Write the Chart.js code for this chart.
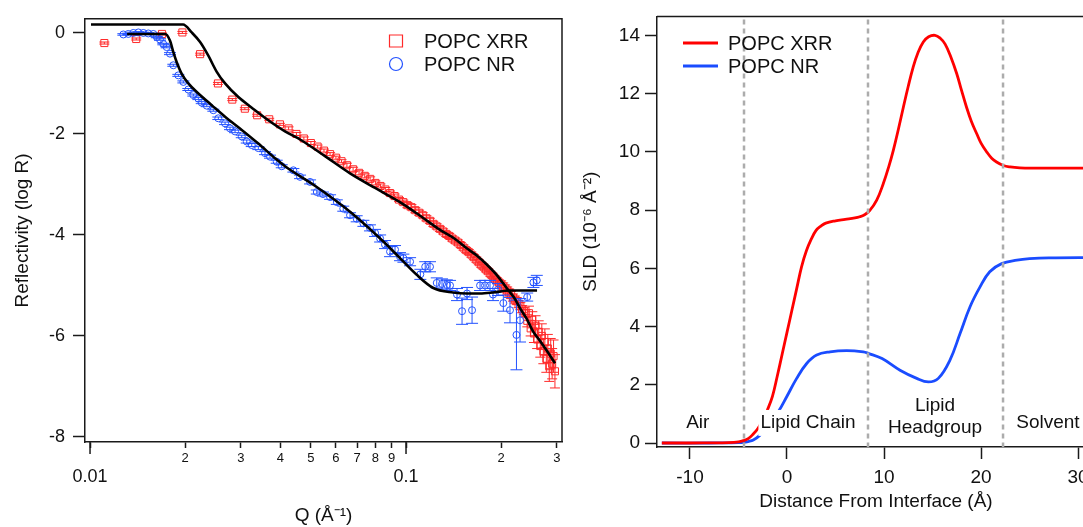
<!DOCTYPE html>
<html lang="en">
<head>
  <meta charset="UTF-8">
  <title>POPC XRR / NR - reflectivity and SLD profiles</title>
  <script src="https://cdn.jsdelivr.net/npm/chart.js"></script>
  <style>
    html, body { margin: 0; padding: 0; background: #fff; width: 1083px; height: 527px; overflow: hidden; position: relative; }
    #left { position: absolute; left: 0; top: 0; }
    #right { position: absolute; left: 575px; top: 0; }
  </style>
</head>
<body>
  <canvas id="left" width="575" height="527"></canvas>
  <canvas id="right" width="540" height="527"></canvas>

  <script>
    // ---- reflectivity data (left panel) ----
    const xrrQ = [0.0111, 0.0140, 0.0169, 0.0196, 0.0223, 0.0254, 0.0282, 0.0309, 0.0338, 0.0369, 0.0399,
      0.0425, 0.045, 0.0475, 0.050, 0.0525, 0.055, 0.0575, 0.060, 0.0625,
      0.065, 0.068, 0.071, 0.074, 0.077, 0.080, 0.083, 0.086, 0.089, 0.092, 0.095, 0.098,
      0.101, 0.104, 0.107, 0.110, 0.113, 0.116, 0.119, 0.122, 0.125, 0.128, 0.131, 0.134, 0.137, 0.140, 0.143, 0.146,
      0.149, 0.152, 0.155, 0.158, 0.161, 0.164, 0.167, 0.170, 0.173, 0.176, 0.179, 0.182, 0.185, 0.188, 0.191, 0.194, 0.197,
      0.200, 0.203, 0.206, 0.209, 0.212, 0.215, 0.218, 0.221, 0.224, 0.227, 0.230, 0.233, 0.236, 0.239,
      0.242, 0.245, 0.248, 0.251, 0.254, 0.257, 0.260, 0.263, 0.266, 0.269, 0.272, 0.275, 0.278, 0.281, 0.284, 0.287, 0.290, 0.293, 0.296];
    const xrrLogR = [-0.20, -0.12, -0.02, 0.01, -0.42, -1.00, -1.32, -1.50, -1.63, -1.71, -1.81,
      -1.89, -2.00, -2.09, -2.18, -2.25, -2.33, -2.40, -2.47, -2.54,
      -2.62, -2.70, -2.77, -2.83, -2.89, -2.97, -3.03, -3.10, -3.17, -3.23, -3.30, -3.35,
      -3.41, -3.45, -3.51, -3.56, -3.61, -3.67, -3.72, -3.78, -3.83, -3.88, -3.93, -3.98, -4.02, -4.07, -4.11, -4.15,
      -4.20, -4.25, -4.30, -4.34, -4.39, -4.44, -4.49, -4.54, -4.59, -4.63, -4.68, -4.72, -4.77, -4.81, -4.86, -4.90, -4.94,
      -4.98, -5.02, -5.06, -5.10, -5.14, -5.19, -5.24, -5.28, -5.31, -5.37, -5.41, -5.47, -5.51, -5.55,
      -5.70, -5.55, -5.85, -5.68, -5.95, -5.80, -6.05, -5.92, -6.20, -6.00, -6.30, -6.12, -6.45, -6.25, -6.60, -6.35, -6.55, -6.40, -6.70];
    const xrrErr = [0.02, 0.02, 0.02, 0.02, 0.02, 0.02, 0.02, 0.02, 0.02, 0.02, 0.02,
      0.03, 0.03, 0.03, 0.03, 0.03, 0.03, 0.03, 0.03, 0.03,
      0.04, 0.04, 0.04, 0.04, 0.04, 0.04, 0.04, 0.04, 0.04, 0.04, 0.04, 0.04,
      0.05, 0.05, 0.05, 0.05, 0.05, 0.05, 0.05, 0.05, 0.05, 0.05, 0.05, 0.05, 0.05, 0.05, 0.05, 0.05,
      0.05, 0.05, 0.05, 0.05, 0.05, 0.05, 0.05, 0.05, 0.05, 0.05, 0.05, 0.05, 0.05, 0.05, 0.05, 0.05, 0.05,
      0.07, 0.07, 0.07, 0.07, 0.07, 0.07, 0.07, 0.07, 0.07, 0.07, 0.07, 0.07, 0.07, 0.07,
      0.12, 0.14, 0.15, 0.16, 0.18, 0.20, 0.20, 0.22, 0.22, 0.24, 0.25, 0.26, 0.27, 0.28, 0.30, 0.30, 0.30, 0.32, 0.33];

    const nrQ = [0.01275, 0.01322, 0.01371, 0.01422, 0.01475, 0.01529, 0.01586, 0.01626, 0.01665, 0.01706, 0.01748,
      0.01791, 0.01835, 0.01903, 0.01974, 0.02047, 0.02123, 0.02202, 0.02257, 0.02341, 0.02456,
      0.02547, 0.02675, 0.02773, 0.02877, 0.03021, 0.03133, 0.03249, 0.03409, 0.03579, 0.03712, 0.03898, 0.04043,
      0.0440, 0.0462, 0.0497, 0.0522, 0.0546, 0.0575, 0.0604, 0.0633, 0.0665, 0.0698, 0.0733, 0.0769, 0.0798,
      0.0828, 0.0858, 0.0890, 0.0923, 0.0957, 0.0981, 0.1030, 0.1110, 0.1150, 0.1191, 0.1251, 0.1300, 0.1346, 0.1378,
      0.1450, 0.1504, 0.1560, 0.1618, 0.1715, 0.1778, 0.1844, 0.1885, 0.1955, 0.2032, 0.2133, 0.2236, 0.2295,
      0.2418, 0.2530, 0.2593];
    const nrLogR = [-0.03, -0.02, 0.00, 0.01, 0.00, -0.01, -0.02, -0.08, -0.13, -0.22, -0.28,
      -0.41, -0.64, -0.84, -0.97, -1.12, -1.23, -1.30, -1.38, -1.44, -1.53,
      -1.69, -1.79, -1.89, -1.95, -2.05, -2.15, -2.22, -2.28, -2.38, -2.45, -2.55, -2.64,
      -2.72, -2.85, -2.95, -3.15, -3.19, -3.25, -3.35, -3.48, -3.61, -3.68, -3.77, -3.86, -3.96,
      -4.07, -4.19, -4.33, -4.29, -4.43, -4.46, -4.53, -4.78, -4.63, -4.63, -4.95, -4.97, -4.99, -5.00,
      -5.18, -5.51, -5.16, -5.49, -5.00, -5.00, -5.00, -5.18, -5.08, -5.35, -5.49, -5.98, -5.69,
      -5.23, -4.94, -4.90];
    const nrErr = [0.015, 0.015, 0.015, 0.015, 0.015, 0.015, 0.015, 0.015, 0.015, 0.015, 0.015,
      0.02, 0.02, 0.02, 0.02, 0.02, 0.02, 0.02, 0.02, 0.02, 0.02,
      0.025, 0.025, 0.025, 0.025, 0.025, 0.03, 0.03, 0.03, 0.03, 0.03, 0.03, 0.03,
      0.035, 0.035, 0.04, 0.04, 0.04, 0.045, 0.045, 0.05, 0.05, 0.06, 0.06, 0.06, 0.07,
      0.07, 0.08, 0.10, 0.08, 0.08, 0.08, 0.08, 0.10, 0.10, 0.10, 0.10, 0.10, 0.10, 0.10,
      0.12, 0.26, 0.12, 0.26, 0.10, 0.10, 0.10, 0.12, 0.12, 0.16, 0.25, 0.69, 0.43,
      0.08, 0.10, 0.10];

    const xrrFitQ = [0.01007, 0.0197, 0.02098, 0.0223, 0.02368, 0.02518, 0.02675, 0.02947, 0.03249, 0.03666, 0.0414,
      0.0462, 0.0554, 0.0665, 0.0798, 0.0957, 0.1108, 0.1281, 0.1429, 0.1560, 0.1678, 0.1804, 0.1941, 0.2087,
      0.2197, 0.2295, 0.2415, 0.2523, 0.2656, 0.2794, 0.2962];
    const xrrFitLogR = [0.167, 0.167, 0.01, -0.18, -0.45, -0.77, -1.00, -1.27, -1.48, -1.73, -1.95,
      -2.11, -2.44, -2.78, -3.07, -3.35, -3.62, -3.90, -4.08, -4.27, -4.41, -4.59, -4.80, -5.06,
      -5.24, -5.45, -5.67, -5.91, -6.10, -6.30, -6.54];
    const nrFitQ = [0.0131, 0.0173, 0.0179, 0.01835, 0.01881, 0.01951, 0.02047, 0.02202, 0.02427, 0.02675, 0.03021,
      0.03409, 0.03849, 0.0414, 0.05217, 0.0665, 0.08478, 0.0957, 0.1081, 0.1220, 0.1408, 0.1560, 0.1715, 0.1885,
      0.2133, 0.2598];
    const nrFitLogR = [-0.02, -0.02, -0.15, -0.38, -0.58, -0.81, -1.00, -1.20, -1.43, -1.66, -1.92,
      -2.19, -2.48, -2.64, -3.05, -3.54, -4.13, -4.46, -4.79, -5.05, -5.14, -5.16, -5.16, -5.14,
      -5.10, -5.10];

    const qTicks = [0.01, 0.02, 0.03, 0.04, 0.05, 0.06, 0.07, 0.08, 0.09, 0.1, 0.2, 0.3];
    const qTickLabels = ['0.01', '2', '3', '4', '5', '6', '7', '8', '9', '0.1', '2', '3'];
    const qMajorTicks = [0.01, 0.1];
    const logRTicks = [-8, -6, -4, -2, 0];
    const logRTickLabels = ['-8', '-6', '-4', '-2', '0'];

    // ---- SLD profiles (right panel) ----
    const zXrr = [-12.9, -10, -7, -6, -5, -4.5, -4, -3.5, -3, -2.5, -2, -1.5, -1, -0.5, 0, 0.5, 1, 1.5, 2, 2.5, 3, 3.5, 4,
      5, 6, 7, 7.5, 8, 8.5, 9.25, 9.93, 10.5, 10.96, 11.5, 12, 12.5, 13, 13.5, 14.05, 14.6, 15.26, 15.8, 16.3, 16.9,
      17.5, 18, 18.5, 19, 19.56, 20, 20.6, 21.1, 21.6, 22.3, 23, 24, 25.4, 28, 32];
    const sldXrr = [0, 0, 0.005, 0.01, 0.04, 0.08, 0.15, 0.3, 0.5, 0.8, 1.15, 1.6, 2.3, 3.05, 3.8, 4.55, 5.3, 6.05, 6.6, 7.0, 7.3, 7.45, 7.55,
      7.63, 7.68, 7.73, 7.77, 7.84, 7.97, 8.34, 8.91, 9.5, 10.05, 10.8, 11.54, 12.25, 12.9, 13.4, 13.77, 13.95, 14.0, 13.9, 13.7, 13.25,
      12.68, 12.1, 11.54, 11.05, 10.62, 10.3, 9.99, 9.78, 9.65, 9.53, 9.48, 9.45, 9.44, 9.44, 9.44];
    const zNr = [-12.9, -8, -6, -5, -4.5, -4, -3.47, -2.78, -2, -1.5, -0.9, -0.03, 1.0, 2.03, 3.06, 4.43, 6.15, 7.87, 8.38,
      9.8, 11.65, 13.37, 14.57, 15.6, 16.8, 17.84, 18.87, 19.9, 20.9, 22.13, 23.7, 25, 27, 32];
    const sldNr = [0, 0, 0.005, 0.01, 0.02, 0.05, 0.1, 0.27, 0.55, 0.8, 1.07, 1.59, 2.22, 2.73, 3.02, 3.13, 3.17, 3.13, 3.08,
      2.9, 2.5, 2.22, 2.10, 2.22, 2.85, 3.76, 4.68, 5.36, 5.88, 6.16, 6.28, 6.33, 6.36, 6.37];

    const interfaceZ = [-4.43, 8.35, 22.27];
    const regionNames = ['Air', 'Lipid Chain', ['Lipid', 'Headgroup'], 'Solvent'];
    const zTicks = [-10, 0, 10, 20, 30];
    const sldTicks = [0, 2, 4, 6, 8, 10, 12, 14];

    // ---- look ----
    Chart.defaults.font.family = "'Liberation Sans', Arial, sans-serif";
    Chart.defaults.color = '#111';
    const AX = '#1a1a1a';
    const RED_PT = '#ff2a2a', BLUE_PT = '#2352ff';
    const RED = '#ff0000', BLUE = '#1a4cff';

    const toXY = (xs, ys) => xs.map((v, i) => ({ x: v, y: ys[i] }));

    const frame = {
      id: 'frame',
      afterDraw(chart) {
        const { ctx, chartArea: a } = chart;
        ctx.save();
        ctx.strokeStyle = AX;
        ctx.lineWidth = 1.5;
        ctx.beginPath();
        ctx.moveTo(a.left, a.top);
        ctx.lineTo(a.right, a.top);
        ctx.lineTo(a.right, a.bottom);
        ctx.stroke();
        ctx.restore();
      }
    };

    const errorBars = {
      id: 'errorBars',
      afterDatasetDraw(chart, args) {
        const ds = chart.data.datasets[args.index];
        if (!ds.errorBars) return;
        const { ctx, chartArea: a, scales: { x, y } } = chart;
        const cap = ds.capHalf;
        ctx.save();
        ctx.beginPath();
        ctx.rect(a.left, a.top, a.right - a.left, a.bottom - a.top);
        ctx.clip();
        ctx.strokeStyle = ds.borderColor;
        ctx.lineWidth = 1;
        ctx.beginPath();
        ds.data.forEach((p, i) => {
          const e = ds.errorBars[i];
          const px = x.getPixelForValue(p.x);
          const lo = y.getPixelForValue(p.y - e), hi = y.getPixelForValue(p.y + e);
          ctx.moveTo(px, lo); ctx.lineTo(px, hi);
          ctx.moveTo(px - cap, lo); ctx.lineTo(px + cap, lo);
          ctx.moveTo(px - cap, hi); ctx.lineTo(px + cap, hi);
        });
        ctx.stroke();
        ctx.restore();
      }
    };

    // longer ticks at 0.01 and 0.1
    const majorTicks = {
      id: 'majorTicks',
      afterDraw(chart) {
        const { ctx, scales: { x } } = chart;
        ctx.save();
        ctx.strokeStyle = AX;
        ctx.lineWidth = 1.5;
        qMajorTicks.forEach(v => {
          const px = x.getPixelForValue(v);
          ctx.beginPath();
          ctx.moveTo(px, x.top);
          ctx.lineTo(px, x.top + 12);
          ctx.stroke();
        });
        ctx.restore();
      }
    };

    const markerLegend = {
      id: 'markerLegend',
      afterDraw(chart, args, o) {
        const ctx = chart.ctx;
        chart.data.datasets.filter(d => d.errorBars).forEach((ds, i) => {
          const y = o.y + i * o.step;
          ctx.save();
          ctx.strokeStyle = ds.borderColor;
          ctx.lineWidth = 1.2;
          ctx.beginPath();
          if (ds.pointStyle === 'rect') ctx.rect(o.x - 6.5, y - 6, 13, 12);
          else ctx.arc(o.x, y, 6.5, 0, Math.PI * 2);
          ctx.stroke();
          ctx.fillStyle = '#111';
          ctx.font = "20px 'Liberation Sans', Arial, sans-serif";
          ctx.textBaseline = 'middle';
          ctx.fillText(ds.label, o.textX, y + 1);
          ctx.restore();
        });
      }
    };

    new Chart(document.getElementById('left'), {
      type: 'scatter',
      data: {
        datasets: [
          {
            label: 'POPC XRR', data: toXY(xrrQ, xrrLogR), errorBars: xrrErr, capHalf: 5,
            pointStyle: 'rect', pointRadius: 5, pointBorderWidth: 1, borderColor: RED_PT,
            backgroundColor: 'rgba(0,0,0,0)', order: 2
          },
          {
            label: 'POPC NR', data: toXY(nrQ, nrLogR), errorBars: nrErr, capHalf: 6,
            pointStyle: 'circle', pointRadius: 3.5, pointBorderWidth: 1, borderColor: BLUE_PT,
            backgroundColor: 'rgba(0,0,0,0)', order: 1
          },
          {
            label: 'XRR fit', data: toXY(xrrFitQ, xrrFitLogR), showLine: true, pointRadius: 0,
            borderColor: '#000', borderWidth: 2.6, cubicInterpolationMode: 'monotone', order: 0
          },
          {
            label: 'NR fit', data: toXY(nrFitQ, nrFitLogR), showLine: true, pointRadius: 0,
            borderColor: '#000', borderWidth: 2.6, cubicInterpolationMode: 'monotone', order: 0
          }
        ]
      },
      options: {
        responsive: false,
        animation: false,
        events: [],
        layout: { padding: { top: 16, right: 13, left: 0, bottom: 0 } },
        plugins: {
          legend: { display: false },
          tooltip: { enabled: false },
          markerLegend: { x: 396, textX: 424, y: 41, step: 23 }
        },
        scales: {
          x: {
            type: 'logarithmic', min: 0.00964, max: 0.3116,
            afterBuildTicks: s => { s.ticks = qTicks.map(v => ({ value: v })); },
            afterFit: s => { s.height = 85; },
            border: { display: true, color: AX, width: 1.5 },
            grid: { drawOnChartArea: false, drawTicks: true, tickLength: 6, tickColor: AX, tickWidth: 1.5 },
            ticks: {
              autoSkip: false, maxRotation: 0, padding: 3, color: '#111',
              font: c => (c.tick && qMajorTicks.includes(c.tick.value)) ? { size: 18, lineHeight: 0.95 } : { size: 13 },
              callback: (v, i) => qMajorTicks.includes(v) ? ['', qTickLabels[i]] : qTickLabels[i]
            },
            title: { display: true, text: 'Q (Å⁻¹)', font: { size: 19 }, padding: { top: 0, bottom: 0 }, color: '#111' }
          },
          y: {
            min: -8.1, max: 0.28,
            afterBuildTicks: s => { s.ticks = logRTicks.map(v => ({ value: v })); },
            afterFit: s => { s.width = 85; },
            border: { display: true, color: AX, width: 1.5 },
            grid: { drawOnChartArea: false, drawTicks: true, tickLength: 12, tickColor: AX, tickWidth: 1.5 },
            ticks: { padding: 8, font: { size: 18 }, color: '#111', callback: (v, i) => logRTickLabels[i] },
            title: { display: true, text: 'Reflectivity (log R)', font: { size: 19 }, padding: { top: 11, bottom: 0 }, color: '#111' }
          }
        }
      },
      plugins: [errorBars, frame, majorTicks, markerLegend]
    });

    // ---- right panel ----
    const boundaries = {
      id: 'boundaries',
      afterDatasetsDraw(chart) {
        const { ctx, chartArea: a, scales: { x } } = chart;
        ctx.save();
        ctx.strokeStyle = '#acacac';
        ctx.lineWidth = 2.5;
        ctx.setLineDash([5, 4]);
        interfaceZ.forEach(z => {
          const px = x.getPixelForValue(z);
          ctx.beginPath();
          ctx.moveTo(px, a.top + 3);
          ctx.lineTo(px, a.bottom);
          ctx.stroke();
        });
        ctx.restore();
      }
    };

    const regionLabels = {
      id: 'regionLabels',
      afterDatasetsDraw(chart, args, o) {
        const { ctx, scales: { x, y } } = chart;
        ctx.save();
        ctx.font = "19px 'Liberation Sans', Arial, sans-serif";
        ctx.textAlign = 'center';
        ctx.textBaseline = 'middle';
        regionNames.forEach((name, i) => {
          const lines = Array.isArray(name) ? name : [name];
          const cx = x.getPixelForValue(o.z[i]);
          const cy = y.getPixelForValue(o.sld[i]);
          const w = Math.max(...lines.map(l => ctx.measureText(l).width)) + 4;
          const h = lines.length * o.lineHeight + 4;
          const top = cy - (lines.length * o.lineHeight) / 2;
          ctx.fillStyle = '#fff';
          ctx.fillRect(cx - w / 2, top - 2, w, h);
          ctx.fillStyle = '#111';
          lines.forEach((l, j) => ctx.fillText(l, cx, top + o.lineHeight * (j + 0.5)));
        });
        ctx.restore();
      }
    };

    const lineLegend = {
      id: 'lineLegend',
      afterDraw(chart, args, o) {
        const ctx = chart.ctx;
        chart.data.datasets.forEach((ds, i) => {
          const y = o.y + i * o.step;
          ctx.save();
          ctx.strokeStyle = ds.borderColor;
          ctx.lineWidth = 3;
          ctx.beginPath();
          ctx.moveTo(o.x1, y);
          ctx.lineTo(o.x2, y);
          ctx.stroke();
          ctx.fillStyle = '#111';
          ctx.font = "20px 'Liberation Sans', Arial, sans-serif";
          ctx.textBaseline = 'middle';
          ctx.fillText(ds.label, o.textX, y + 1);
          ctx.restore();
        });
      }
    };

    new Chart(document.getElementById('right'), {
      type: 'scatter',
      data: {
        datasets: [
          {
            label: 'POPC XRR', data: toXY(zXrr, sldXrr), showLine: true, pointRadius: 0,
            borderColor: RED, borderWidth: 2.8, tension: 0.4
          },
          {
            label: 'POPC NR', data: toXY(zNr, sldNr), showLine: true, pointRadius: 0,
            borderColor: BLUE, borderWidth: 2.8, tension: 0.4
          }
        ]
      },
      options: {
        responsive: false,
        animation: false,
        events: [],
        layout: { padding: { top: 16, right: 20, left: 0, bottom: 0 } },
        plugins: {
          legend: { display: false },
          tooltip: { enabled: false },
          regionLabels: { z: [-9.2, 2.16, 15.26, 26.9], sld: [0.69, 0.69, 0.89, 0.69], lineHeight: 22 },
          lineLegend: { x1: 683 - 575, x2: 718 - 575, textX: 728 - 575, y: 43, step: 23 }
        },
        scales: {
          x: {
            type: 'linear', min: -13.4, max: 31.75,
            afterBuildTicks: s => { s.ticks = zTicks.map(v => ({ value: v })); },
            afterFit: s => { s.height = 80; },
            border: { display: true, color: AX, width: 1.5 },
            grid: { drawOnChartArea: false, drawTicks: true, tickLength: 12, tickColor: AX, tickWidth: 1.5 },
            ticks: { autoSkip: false, maxRotation: 0, padding: 7, font: { size: 19 }, color: '#111' },
            title: { display: true, text: 'Distance From Interface (Å)', font: { size: 19 }, padding: { top: 0, bottom: 14 }, color: '#111' }
          },
          y: {
            min: -0.137, max: 14.65,
            afterBuildTicks: s => { s.ticks = sldTicks.map(v => ({ value: v })); },
            afterFit: s => { s.width = 82; },
            border: { display: true, color: AX, width: 1.5 },
            grid: { drawOnChartArea: false, drawTicks: true, tickLength: 12, tickColor: AX, tickWidth: 1.5 },
            ticks: { padding: 5, font: { size: 19 }, color: '#111' },
            title: { display: true, text: 'SLD (10⁻⁶ Å⁻²)', font: { size: 19 }, padding: { top: 4, bottom: 0 }, color: '#111' }
          }
        }
      },
      plugins: [boundaries, regionLabels, frame, lineLegend]
    });
  </script>
</body>
</html>
